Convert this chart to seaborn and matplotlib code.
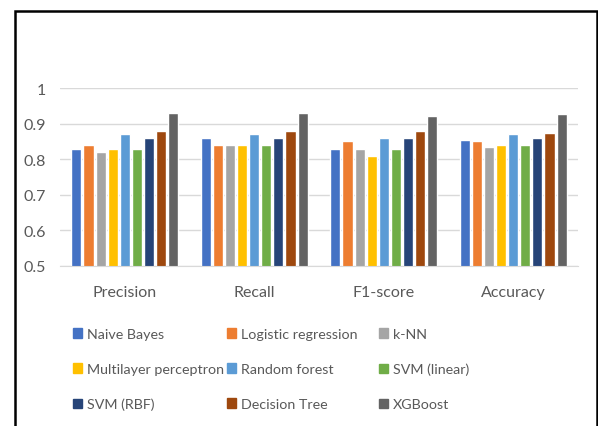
import numpy as np
import pandas as pd
import matplotlib
matplotlib.use("Agg")
from matplotlib import pyplot as plt
from matplotlib.patches import Rectangle, Patch
import seaborn as sns

metrics = ["Precision", "Recall", "F1-score", "Accuracy"]
models = ["Naive Bayes", "Logistic regression", "k-NN",
          "Multilayer perceptron", "Random forest", "SVM (linear)",
          "SVM (RBF)", "Decision Tree", "XGBoost"]

# 각 모델의 점수 (Precision, Recall, F1-score, Accuracy 순서)
naive_bayes = [0.83, 0.86, 0.83, 0.855]
logistic = [0.84, 0.84, 0.85, 0.85]
knn = [0.82, 0.84, 0.83, 0.835]
mlp = [0.83, 0.84, 0.81, 0.84]
random_forest = [0.87, 0.87, 0.86, 0.87]
svm_linear = [0.83, 0.84, 0.83, 0.84]
svm_rbf = [0.86, 0.86, 0.86, 0.86]
decision_tree = [0.88, 0.88, 0.88, 0.875]
xgboost = [0.93, 0.93, 0.92, 0.927]

colors = ["#4472C4", "#ED7D31", "#A5A5A5", "#FFC000", "#5B9BD5",
          "#70AD47", "#264478", "#9E480E", "#636363"]

scores = [naive_bayes, logistic, knn, mlp, random_forest,
          svm_linear, svm_rbf, decision_tree, xgboost]
rows = []
for name, vals in zip(models, scores):
    for m, v in zip(metrics, vals):
        rows.append({"metric": m, "model": name, "score": v})
df = pd.DataFrame(rows)

sns.set_style("white")
plt.rcParams["font.family"] = ["Lato", "DejaVu Sans"]
txt = "#595959"

fig = plt.figure(figsize=(5.98, 4.27), dpi=100)
ax = fig.add_axes([60 / 598, 1 - 267 / 427, 518 / 598, 178 / 427])

sns.barplot(data=df, x="metric", y="score", hue="model", order=metrics,
            hue_order=models, palette=colors, saturation=1, width=0.84,
            gap=0.16, legend=False, ax=ax)

ax.set_ylim(0.5, 1.0)
ax.set_yticks(np.arange(0.5, 1.01, 0.1))
ax.set_yticklabels(["0.5", "0.6", "0.7", "0.8", "0.9", "1"])
ax.yaxis.grid(True, color="#D9D9D9", linewidth=1)
ax.set_axisbelow(True)
for s in ["top", "right", "left"]:
    ax.spines[s].set_visible(False)
ax.spines["bottom"].set_color("#D9D9D9")
ax.tick_params(axis="both", length=0, colors=txt, labelsize=11.5)
ax.tick_params(axis="x", pad=14)
ax.tick_params(axis="y", pad=10)
ax.set_xlabel("")
ax.set_ylabel("")

# 범례: 엑셀처럼 3열, 행 순서대로
col_x = [73, 227, 379]
for c in range(3):
    handles = [Patch(color=colors[r * 3 + c], label=models[r * 3 + c]) for r in range(3)]
    fig.legend(handles=handles, loc="upper left",
               bbox_to_anchor=(col_x[c] / 598, 1 - 329 / 427),
               frameon=False, fontsize=10.3, labelcolor=txt,
               handlelength=0.65, handleheight=0.65, handletextpad=0.3,
               labelspacing=1.6, borderpad=0, borderaxespad=0)

# 바깥 테두리
fig.patches.append(Rectangle((14.5 / 598, -0.05), (597 - 14.5) / 598, 1.05 - 11.5 / 427,
                             transform=fig.transFigure, fill=False,
                             edgecolor="black", linewidth=1.8))

fig.savefig("out.png", dpi=100)
